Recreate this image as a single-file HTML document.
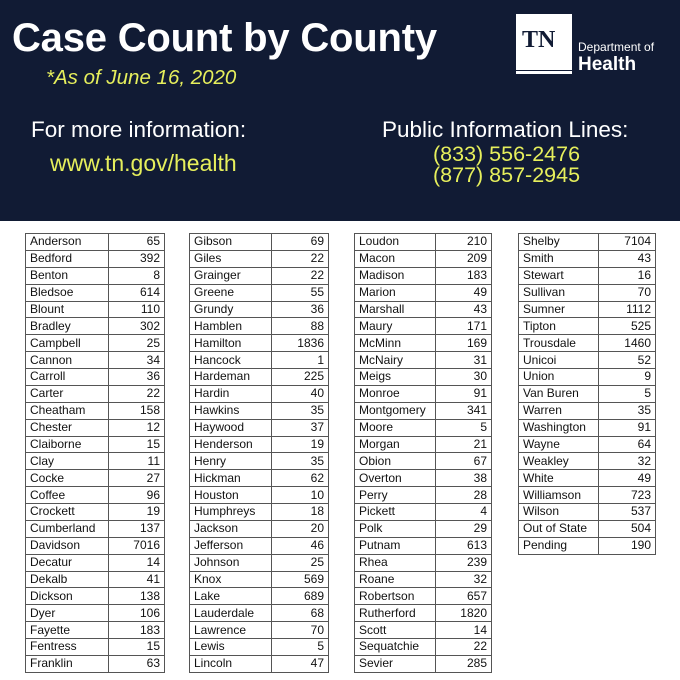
<!DOCTYPE html>
<html><head><meta charset="utf-8"><style>
*{margin:0;padding:0;box-sizing:border-box}
body{width:680px;height:680px;background:#fff;position:relative;overflow:hidden;font-family:"Liberation Sans",sans-serif}
.hd{position:absolute;left:0;top:0;width:680px;height:221px;background:#111b34}
.t{position:absolute;white-space:nowrap}
table{position:absolute;border-collapse:collapse;top:233px;font-size:12px;color:#111}
td{border:1px solid #555;height:16.88px;padding:0 4px;line-height:15px}
td.n{text-align:right}
</style></head><body>
<div class="hd">
<div class="t" style="left:12px;top:16px;font-size:40px;font-weight:bold;color:#fff;letter-spacing:-0.2px">Case Count by County</div>
<div class="t" style="left:46px;top:66px;font-size:20.5px;font-style:italic;color:#e6ef5c">*As of June 16, 2020</div>
<div class="t" style="left:31px;top:117px;font-size:22.5px;color:#fff">For more information:</div>
<div class="t" style="left:50px;top:150px;font-size:23px;color:#e6ef5c">www.tn.gov/health</div>
<div class="t" style="left:382px;top:117px;font-size:22.5px;color:#fff">Public Information Lines:</div>
<div class="t" style="left:433px;top:144px;font-size:21.5px;color:#e6ef5c;line-height:21px">(833) 556-2476<br>(877) 857-2945</div>
<div style="position:absolute;left:516px;top:14px;width:56px;height:56px;background:#fff"></div>
<div class="t" style="left:522px;top:27px;font-size:24px;font-family:'Liberation Serif',serif;color:#111b34;font-weight:bold">TN</div>
<div style="position:absolute;left:516px;top:71px;width:56px;height:3px;background:#fff"></div>
<div class="t" style="left:578px;top:40px;font-size:12px;color:#fff">Department of</div>
<div class="t" style="left:578px;top:54px;font-size:19px;font-weight:bold;color:#fff">Health</div>
</div>
<table style="left:25px;width:140px"><colgroup><col style="width:83px"><col></colgroup>
<tr><td>Anderson</td><td class="n">65</td></tr><tr><td>Bedford</td><td class="n">392</td></tr><tr><td>Benton</td><td class="n">8</td></tr><tr><td>Bledsoe</td><td class="n">614</td></tr><tr><td>Blount</td><td class="n">110</td></tr><tr><td>Bradley</td><td class="n">302</td></tr><tr><td>Campbell</td><td class="n">25</td></tr><tr><td>Cannon</td><td class="n">34</td></tr><tr><td>Carroll</td><td class="n">36</td></tr><tr><td>Carter</td><td class="n">22</td></tr><tr><td>Cheatham</td><td class="n">158</td></tr><tr><td>Chester</td><td class="n">12</td></tr><tr><td>Claiborne</td><td class="n">15</td></tr><tr><td>Clay</td><td class="n">11</td></tr><tr><td>Cocke</td><td class="n">27</td></tr><tr><td>Coffee</td><td class="n">96</td></tr><tr><td>Crockett</td><td class="n">19</td></tr><tr><td>Cumberland</td><td class="n">137</td></tr><tr><td>Davidson</td><td class="n">7016</td></tr><tr><td>Decatur</td><td class="n">14</td></tr><tr><td>Dekalb</td><td class="n">41</td></tr><tr><td>Dickson</td><td class="n">138</td></tr><tr><td>Dyer</td><td class="n">106</td></tr><tr><td>Fayette</td><td class="n">183</td></tr><tr><td>Fentress</td><td class="n">15</td></tr><tr><td>Franklin</td><td class="n">63</td></tr>
</table>
<table style="left:189px;width:140px"><colgroup><col style="width:82px"><col></colgroup>
<tr><td>Gibson</td><td class="n">69</td></tr><tr><td>Giles</td><td class="n">22</td></tr><tr><td>Grainger</td><td class="n">22</td></tr><tr><td>Greene</td><td class="n">55</td></tr><tr><td>Grundy</td><td class="n">36</td></tr><tr><td>Hamblen</td><td class="n">88</td></tr><tr><td>Hamilton</td><td class="n">1836</td></tr><tr><td>Hancock</td><td class="n">1</td></tr><tr><td>Hardeman</td><td class="n">225</td></tr><tr><td>Hardin</td><td class="n">40</td></tr><tr><td>Hawkins</td><td class="n">35</td></tr><tr><td>Haywood</td><td class="n">37</td></tr><tr><td>Henderson</td><td class="n">19</td></tr><tr><td>Henry</td><td class="n">35</td></tr><tr><td>Hickman</td><td class="n">62</td></tr><tr><td>Houston</td><td class="n">10</td></tr><tr><td>Humphreys</td><td class="n">18</td></tr><tr><td>Jackson</td><td class="n">20</td></tr><tr><td>Jefferson</td><td class="n">46</td></tr><tr><td>Johnson</td><td class="n">25</td></tr><tr><td>Knox</td><td class="n">569</td></tr><tr><td>Lake</td><td class="n">689</td></tr><tr><td>Lauderdale</td><td class="n">68</td></tr><tr><td>Lawrence</td><td class="n">70</td></tr><tr><td>Lewis</td><td class="n">5</td></tr><tr><td>Lincoln</td><td class="n">47</td></tr>
</table>
<table style="left:354px;width:138px"><colgroup><col style="width:81px"><col></colgroup>
<tr><td>Loudon</td><td class="n">210</td></tr><tr><td>Macon</td><td class="n">209</td></tr><tr><td>Madison</td><td class="n">183</td></tr><tr><td>Marion</td><td class="n">49</td></tr><tr><td>Marshall</td><td class="n">43</td></tr><tr><td>Maury</td><td class="n">171</td></tr><tr><td>McMinn</td><td class="n">169</td></tr><tr><td>McNairy</td><td class="n">31</td></tr><tr><td>Meigs</td><td class="n">30</td></tr><tr><td>Monroe</td><td class="n">91</td></tr><tr><td>Montgomery</td><td class="n">341</td></tr><tr><td>Moore</td><td class="n">5</td></tr><tr><td>Morgan</td><td class="n">21</td></tr><tr><td>Obion</td><td class="n">67</td></tr><tr><td>Overton</td><td class="n">38</td></tr><tr><td>Perry</td><td class="n">28</td></tr><tr><td>Pickett</td><td class="n">4</td></tr><tr><td>Polk</td><td class="n">29</td></tr><tr><td>Putnam</td><td class="n">613</td></tr><tr><td>Rhea</td><td class="n">239</td></tr><tr><td>Roane</td><td class="n">32</td></tr><tr><td>Robertson</td><td class="n">657</td></tr><tr><td>Rutherford</td><td class="n">1820</td></tr><tr><td>Scott</td><td class="n">14</td></tr><tr><td>Sequatchie</td><td class="n">22</td></tr><tr><td>Sevier</td><td class="n">285</td></tr>
</table>
<table style="left:518px;width:138px"><colgroup><col style="width:80px"><col></colgroup>
<tr><td>Shelby</td><td class="n">7104</td></tr><tr><td>Smith</td><td class="n">43</td></tr><tr><td>Stewart</td><td class="n">16</td></tr><tr><td>Sullivan</td><td class="n">70</td></tr><tr><td>Sumner</td><td class="n">1112</td></tr><tr><td>Tipton</td><td class="n">525</td></tr><tr><td>Trousdale</td><td class="n">1460</td></tr><tr><td>Unicoi</td><td class="n">52</td></tr><tr><td>Union</td><td class="n">9</td></tr><tr><td>Van Buren</td><td class="n">5</td></tr><tr><td>Warren</td><td class="n">35</td></tr><tr><td>Washington</td><td class="n">91</td></tr><tr><td>Wayne</td><td class="n">64</td></tr><tr><td>Weakley</td><td class="n">32</td></tr><tr><td>White</td><td class="n">49</td></tr><tr><td>Williamson</td><td class="n">723</td></tr><tr><td>Wilson</td><td class="n">537</td></tr><tr><td>Out of State</td><td class="n">504</td></tr><tr><td>Pending</td><td class="n">190</td></tr>
</table>
</body></html>
